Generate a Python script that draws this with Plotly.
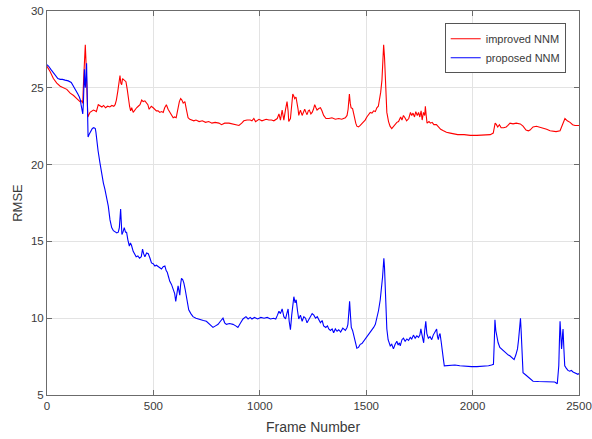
import plotly.graph_objects as go

# ---- improved NNM: frame index and RMSE ----
improved_frames = [
    0, 15, 30, 46, 62, 78, 93, 109, 125, 140, 155, 163, 168, 172, 176, 180, 183, 186, 189, 192,
    202, 210, 218, 226, 232, 241, 249, 258, 266, 275, 285, 295, 305, 314, 320, 326, 333, 338, 343, 347,
    351, 355, 362, 371, 377, 382, 388, 393, 398, 405, 413, 421, 429, 437, 445, 452, 460, 467, 474, 480,
    490, 499, 507, 514, 522, 530, 538, 546, 553, 561, 569, 577, 585, 593, 600, 607, 612, 616, 622, 628,
    634, 640, 648, 655, 663, 671, 679, 690, 700, 715, 730, 745, 760, 775, 790, 808, 820, 835, 855, 870,
    887, 902, 915, 925, 940, 955, 963, 972, 980, 996, 1010, 1019, 1030, 1043, 1055, 1066, 1075, 1082, 1090, 1097,
    1105, 1110, 1113, 1121, 1128, 1133, 1136, 1144, 1150, 1155, 1160, 1164, 1170, 1175, 1180, 1183, 1191, 1199, 1205, 1211,
    1217, 1222, 1228, 1233, 1240, 1246, 1252, 1258, 1264, 1269, 1277, 1285, 1292, 1300, 1311, 1325, 1339, 1355, 1371, 1385,
    1402, 1410, 1415, 1421, 1425, 1429, 1436, 1441, 1446, 1451, 1456, 1464, 1472, 1480, 1488, 1495, 1503, 1511, 1519, 1527,
    1535, 1543, 1550, 1557, 1563, 1568, 1574, 1578, 1582, 1586, 1589, 1593, 1597, 1605, 1612, 1620, 1628, 1636, 1644, 1652,
    1662, 1668, 1675, 1682, 1690, 1700, 1708, 1714, 1720, 1727, 1733, 1740, 1746, 1752, 1758, 1763, 1769, 1775, 1778, 1782,
    1786, 1795, 1802, 1810, 1818, 1830, 1840, 1850, 1863, 1877, 1895, 1908, 1930, 1960, 1989, 2020, 2050, 2083, 2097, 2101,
    2106, 2112, 2118, 2126, 2134, 2146, 2158, 2166, 2176, 2190, 2205, 2224, 2237, 2251, 2262, 2270, 2284, 2300, 2315, 2331,
    2348, 2364, 2378, 2392, 2411, 2420, 2428, 2434, 2445, 2458, 2470, 2481, 2500,
]
improved_rmse = [
    26.4, 26.05, 25.6, 25.3, 25.1, 25.0, 24.9, 24.65, 24.5, 24.3, 24.1, 24.15, 24.0, 25.5, 26.6, 27.8, 26.8, 25.0, 23.4, 23.1,
    23.4, 23.5, 23.55, 23.5, 23.45, 23.9, 23.8, 23.75, 23.85, 23.7, 23.8, 23.75, 23.85, 23.8, 23.9, 24.2, 24.8, 25.4, 25.8, 25.3,
    25.2, 25.6, 25.5, 25.4, 24.9, 24.2, 23.8, 23.5, 23.7, 23.4, 23.6, 23.7, 23.8, 23.9, 24.2, 24.1, 24.15, 24.0, 23.9, 23.6,
    23.8, 23.7, 23.6, 23.5, 23.5, 23.4, 23.45, 23.4, 23.7, 23.9, 23.6, 23.4, 23.2, 23.05, 23.1, 23.05, 23.4, 23.7, 24.1, 24.3,
    24.2, 24.0, 24.1, 23.6, 23.05, 22.95, 22.9, 22.85, 22.9, 22.8, 22.85, 22.75, 22.8, 22.7, 22.75, 22.7, 22.6, 22.7, 22.7, 22.65,
    22.6, 22.55, 22.7, 22.85, 22.9, 22.9, 22.85, 23.0, 22.8, 22.95, 22.85, 22.9, 22.95, 22.9, 22.9, 22.85, 22.95, 23.0, 23.3, 22.9,
    23.55, 23.0, 22.9, 23.6, 24.1, 23.5, 22.8, 23.0, 23.8, 24.6, 24.45, 24.3, 24.4, 24.1, 23.6, 23.2, 23.55, 23.2, 23.4, 23.6,
    23.4, 23.25, 23.5, 23.55, 23.3, 23.4, 23.6, 23.9, 23.7, 23.55, 23.65, 23.7, 23.5, 23.2, 23.0, 23.0, 23.05, 22.95, 23.0, 22.95,
    23.05, 23.2, 23.6, 24.6, 24.0, 23.7, 23.65, 23.3, 22.9, 22.7, 22.5, 22.45, 22.55, 22.65, 22.75, 22.9, 23.1, 23.25, 23.4, 23.35,
    23.5, 23.45, 23.7, 23.8, 24.2, 24.7, 25.5, 26.5, 27.8, 27.0, 26.0, 24.5, 23.4, 22.8, 22.5, 22.35, 22.5, 22.6, 22.75, 22.8,
    23.1, 22.9, 23.2, 23.05, 22.85, 23.0, 23.4, 23.2, 23.35, 23.1, 23.45, 23.2, 23.4, 23.1, 23.5, 22.9, 23.4, 23.2, 23.8, 23.2,
    22.7, 22.8, 22.7, 22.75, 22.6, 22.6, 22.45, 22.3, 22.2, 22.1, 22.05, 22.0, 21.95, 21.95, 21.9, 21.9, 21.92, 21.95, 22.05, 22.4,
    22.7, 22.6, 22.45, 22.6, 22.4, 22.4, 22.45, 22.55, 22.7, 22.65, 22.7, 22.65, 22.5, 22.25, 22.2, 22.25, 22.45, 22.5, 22.45, 22.4,
    22.3, 22.2, 22.15, 22.15, 22.2, 22.5, 22.85, 23.0, 22.85, 22.75, 22.6, 22.55, 22.55,
]

# ---- proposed NNM: frame index and RMSE ----
proposed_frames = [
    0, 8, 18, 27, 39, 51, 62, 73, 85, 100, 114, 125, 137, 145, 152, 157, 160, 164, 168, 171,
    174, 176, 178, 180, 183, 186, 189, 191, 193, 199, 206, 213, 220, 227, 230, 233, 240, 249, 257, 265,
    272, 280, 288, 296, 304, 312, 320, 328, 335, 340, 346, 349, 352, 357, 363, 369, 374, 380, 387, 392,
    397, 405, 412, 419, 427, 435, 443, 449, 454, 460, 468, 476, 484, 491, 499, 507, 514, 522, 530, 538,
    546, 554, 560, 565, 571, 577, 585, 593, 600, 605, 610, 616, 620, 624, 628, 632, 638, 643, 649, 655,
    660, 666, 676, 686, 700, 718, 735, 749, 765, 780, 792, 804, 815, 827, 835, 843, 858, 874, 887, 897,
    910, 921, 935, 945, 955, 963, 975, 990, 1005, 1020, 1035, 1050, 1065, 1075, 1083, 1090, 1097, 1105, 1113, 1121,
    1127, 1133, 1138, 1144, 1150, 1155, 1160, 1166, 1171, 1177, 1183, 1191, 1199, 1207, 1215, 1222, 1230, 1238, 1246, 1254,
    1262, 1270, 1277, 1285, 1293, 1300, 1310, 1318, 1324, 1332, 1340, 1347, 1355, 1363, 1371, 1380, 1390, 1402, 1410, 1414,
    1418, 1422, 1426, 1430, 1436, 1441, 1448, 1456, 1464, 1472, 1480, 1488, 1495, 1503, 1511, 1519, 1527, 1535, 1543, 1550,
    1558, 1566, 1572, 1577, 1580, 1583, 1586, 1589, 1593, 1597, 1603, 1608, 1613, 1620, 1628, 1636, 1644, 1650, 1656, 1660,
    1668, 1675, 1683, 1691, 1699, 1707, 1714, 1722, 1730, 1738, 1746, 1752, 1757, 1761, 1765, 1770, 1775, 1780, 1785, 1792,
    1800, 1808, 1815, 1823, 1831, 1835, 1839, 1843, 1847, 1852, 1858, 1863, 1867, 1880, 1900, 1917, 1940, 1964, 1995, 2020,
    2040, 2058, 2075, 2089, 2098, 2102, 2105, 2109, 2113, 2120, 2128, 2136, 2144, 2152, 2160, 2168, 2175, 2185, 2195, 2203,
    2211, 2216, 2219, 2223, 2225, 2228, 2230, 2233, 2237, 2250, 2261, 2272, 2284, 2310, 2339, 2365, 2386, 2398, 2402, 2405,
    2408, 2411, 2415, 2418, 2420, 2423, 2425, 2429, 2433, 2440, 2448, 2456, 2464, 2472, 2480, 2488, 2495, 2500,
]
proposed_rmse = [
    26.5, 26.4, 26.2, 26.05, 25.85, 25.6, 25.55, 25.55, 25.5, 25.45, 25.35, 25.1, 24.85, 24.6, 24.4, 24.2, 23.9, 23.5, 23.3, 24.0,
    25.5, 26.2, 25.5, 25.0, 25.6, 26.6, 24.5, 22.0, 21.8, 22.0, 22.2, 22.35, 22.4, 22.35, 22.1, 21.6, 20.9, 20.1, 19.4, 18.8,
    18.4, 17.9, 17.3, 16.4, 15.9, 15.7, 15.65, 15.55, 15.6, 15.9, 17.1, 16.2, 15.45, 15.6, 15.9, 15.6, 15.6, 15.1, 14.7, 14.9,
    14.75, 14.35, 14.2, 14.0, 14.05, 13.9, 14.0, 14.5, 14.2, 14.0, 14.25, 14.2, 13.9, 13.6, 13.55, 13.4, 13.45, 13.35, 13.3, 13.2,
    13.35, 13.4, 13.1, 13.0, 12.7, 12.4, 12.2, 11.9, 11.6, 11.1, 11.6, 12.1, 11.8, 11.5, 12.2, 12.6, 12.5, 12.3, 11.9, 11.5,
    11.0, 10.55, 10.3, 10.1, 10.0, 9.9, 9.85, 9.8, 9.6, 9.4, 9.5, 9.6, 9.8, 10.0, 9.7, 9.6, 9.65, 9.6, 9.5, 9.4,
    9.7, 9.95, 10.1, 9.95, 10.05, 9.95, 10.05, 9.95, 10.05, 10.0, 10.05, 9.95, 10.0, 9.95, 10.2, 10.45, 10.3, 10.6, 10.1, 9.95,
    10.3, 10.6, 9.8, 9.25, 10.2, 11.0, 11.4, 11.0, 11.2, 10.5, 9.95, 10.2, 9.8, 10.1, 10.0, 9.7, 9.9, 10.2, 10.3, 10.2,
    10.0, 10.1, 9.9, 9.7, 9.85, 9.5, 9.4, 9.5, 9.3, 9.2, 9.3, 9.05, 9.3, 9.15, 9.25, 9.1, 9.35, 9.2, 9.4, 9.6,
    10.3, 11.1, 10.2, 9.4, 9.2, 8.9, 8.4, 8.05, 8.1, 8.3, 8.35, 8.5, 8.6, 8.8, 8.9, 9.1, 9.25, 9.4, 9.6, 10.0,
    10.5, 11.2, 11.9, 12.7, 13.3, 13.9, 13.3, 12.2, 10.8, 9.3, 8.6, 8.4, 8.2, 8.3, 8.0, 8.3, 8.5, 8.25, 8.4, 8.2,
    8.6, 8.7, 8.5, 8.65, 8.55, 8.75, 8.65, 8.9, 8.7, 8.85, 8.75, 8.9, 9.3, 9.0, 8.6, 8.4, 9.2, 9.8, 9.0, 8.7,
    8.8, 8.6, 8.9, 9.1, 9.3, 8.8, 8.6, 8.9, 9.0, 8.5, 8.0, 7.3, 6.9, 6.92, 6.95, 6.95, 6.9, 6.87, 6.85, 6.85,
    6.86, 6.88, 6.9, 6.95, 7.0, 8.5, 9.9, 9.2, 8.8, 8.4, 8.1, 8.0, 7.9, 7.75, 7.7, 7.6, 7.55, 7.45, 7.3, 7.6,
    8.0, 8.6, 9.0, 9.6, 10.0, 9.2, 8.3, 7.2, 6.45, 6.3, 6.15, 6.0, 5.9, 5.88, 5.88, 5.87, 5.85, 5.73, 6.2, 6.9,
    8.5, 9.8, 8.8, 8.0, 8.3, 9.0, 9.3, 8.0, 6.9, 6.75, 6.6, 6.55, 6.6, 6.5, 6.45, 6.4, 6.35, 6.4,
]

x_ticks = [0, 500, 1000, 1500, 2000, 2500]
y_ticks = [5, 10, 15, 20, 25, 30]

FONT = "Liberation Sans, Arial, sans-serif"
AXIS_COLOR = "#6b6b6b"
GRID_COLOR = "#e3e3e3"
TEXT_COLOR = "#3a3a3a"

fig = go.Figure()
fig.add_trace(go.Scatter(
    x=improved_frames, y=improved_rmse, mode="lines", name="improved NNM",
    line=dict(color="#ff0000", width=1.1),
))
fig.add_trace(go.Scatter(
    x=proposed_frames, y=proposed_rmse, mode="lines", name="proposed NNM",
    line=dict(color="#0000ff", width=1.1),
))

axis_common = dict(
    showline=True, linecolor=AXIS_COLOR, linewidth=1, mirror="allticks",
    ticks="inside", ticklen=5, tickcolor=AXIS_COLOR, tickwidth=1,
    showgrid=True, gridcolor=GRID_COLOR, gridwidth=1, zeroline=False,
    tickfont=dict(family=FONT, size=11.5, color=TEXT_COLOR),
    automargin=False, ticklabeloverflow="allow",
)

fig.update_xaxes(
    range=[0, 2500], tickvals=x_ticks, ticktext=[str(v) for v in x_ticks],
    title=dict(text="Frame Number", font=dict(family=FONT, size=14, color=TEXT_COLOR), standoff=11),
    **axis_common,
)
fig.update_yaxes(
    range=[5, 30], tickvals=y_ticks, ticktext=[str(v) for v in y_ticks],
    title=dict(text="RMSE", font=dict(family=FONT, size=13, color=TEXT_COLOR), standoff=5),
    **axis_common,
)

fig.update_layout(
    width=592, height=439,
    margin=dict(l=47, r=13, t=11, b=44),
    paper_bgcolor="white", plot_bgcolor="white",
    font=dict(family=FONT, size=12, color=TEXT_COLOR),
    showlegend=True,
    legend=dict(
        x=0.975, y=0.968, xanchor="right", yanchor="top",
        bgcolor="white", bordercolor="#555555", borderwidth=1,
        font=dict(family=FONT, size=11, color=TEXT_COLOR),
        itemwidth=30, tracegroupgap=0,
    ),
)

fig.write_html("out.html")
